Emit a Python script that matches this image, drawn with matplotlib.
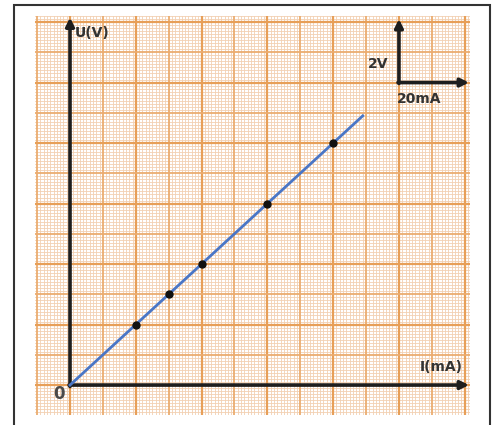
import matplotlib
matplotlib.use("Agg")
import matplotlib.pyplot as plt
from matplotlib.patches import Rectangle
import numpy as np

# measured points: current (mA) and voltage (V)
current = [20, 30, 40, 60, 80]
voltage = [2, 3, 4, 6, 8]
# fitted line (through origin)
fitI = [0, 89]
fitU = [0, 8.9]

xmin, xmax = -10.64, 121.6
ymin, ymax = -0.99, 12.2

fig = plt.figure(figsize=(5, 4.25), dpi=100)
fig.patch.set_facecolor("white")
ax = fig.add_axes([35/500, 10/425, 435/500, 399/425])
ax.set_xlim(xmin, xmax)
ax.set_ylim(ymin, ymax)
ax.set_facecolor("#fbf0e8")
ax.axis("off")

# graph paper
fine = "#f2d0b2"
mid = "#ebac70"
heavy = "#e79f58"
for v in np.arange(-10, 122, 1):
  if v % 20 == 0:
    c, lw = heavy, 1.6
  elif v % 10 == 0:
    c, lw = mid, 1.3
  else:
    c, lw = fine, 0.6
  ax.plot([v, v], [ymin, ymax], color=c, lw=lw, zorder=1 if lw < 1 else 2)
for u in np.arange(-9, 123, 1) / 10:
  k = int(round(u*10))
  if k % 20 == 0:
    c, lw = heavy, 1.6
  elif k % 10 == 0:
    c, lw = mid, 1.3
  else:
    c, lw = fine, 0.6
  ax.plot([xmin, xmax], [u, u], color=c, lw=lw, zorder=1 if lw < 1 else 2)

# axes with arrows
arr = dict(arrowstyle="-|>", color="#1e1e1e", lw=2.6, mutation_scale=12,
           shrinkA=0, shrinkB=0)
ax.annotate("", xy=(0, 12.15), xytext=(0, -0.05), arrowprops=arr, zorder=5)
ax.annotate("", xy=(121.3, 0), xytext=(-0.3, 0), arrowprops=arr, zorder=5)

# scale marker
ax.annotate("", xy=(100, 12.1), xytext=(100, 9.97), arrowprops=arr, zorder=5)
ax.annotate("", xy=(121.3, 10), xytext=(99.7, 10), arrowprops=arr, zorder=5)

ax.plot(fitI, fitU, color="#4a76c6", lw=2, zorder=6)
ax.plot(current, voltage, "o", color="#111111", ms=5, zorder=7)

tk = dict(fontsize=10, fontweight="bold", color="#333333", zorder=8)
ax.text(1.5, 11.64, "U(V)", ha="left", va="center", **tk)
ax.text(112.8, 0.6, "I(mA)", ha="center", va="center", **tk)
ax.text(-3.2, -0.3, "0", ha="center", va="center", fontsize=12,
        fontweight="bold", color="#4a4a4a", zorder=8)
ax.text(93.6, 10.6, "2V", ha="center", va="center", **tk)
ax.text(106, 9.45, "20mA", ha="center", va="center", **tk)

# outer frame
fig.patches.append(Rectangle((14/500, -0.02), 476/500, 420/425 + 0.02,
                             transform=fig.transFigure, fill=False,
                             edgecolor="#333333", lw=1.5))

fig.savefig("out.png", dpi=100)
